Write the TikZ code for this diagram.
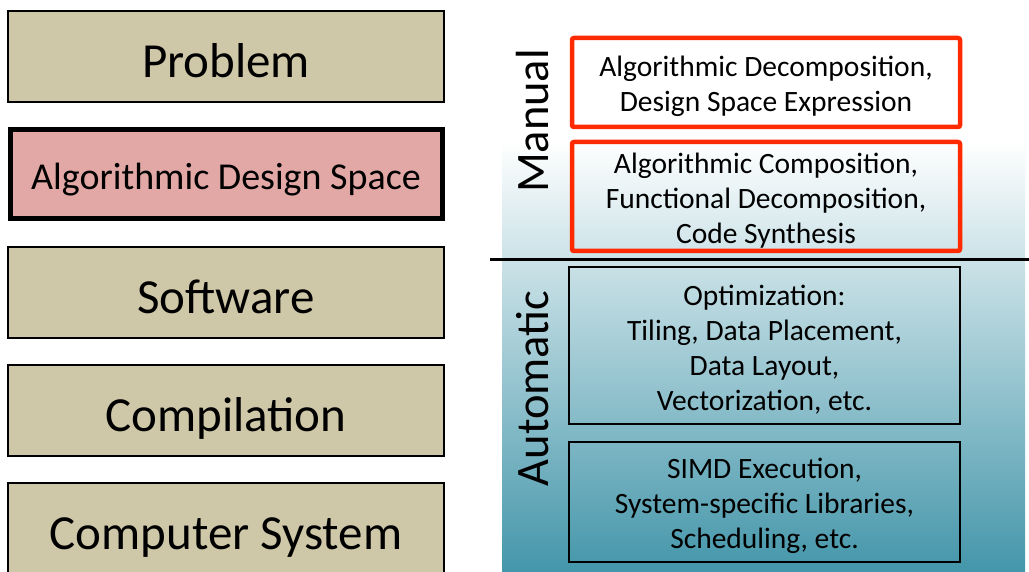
\documentclass[tikz,border=0pt]{standalone}
\usepackage{fontspec}
\setmainfont{Carlito}
\definecolor{tan}{HTML}{CFC8A8}
\definecolor{pinkbox}{HTML}{E2A8A6}
\definecolor{redline}{HTML}{FF2A00}
\definecolor{teal}{HTML}{4496AA}
\begin{document}
\begin{tikzpicture}[x=1pt,y=-1pt,
  level/.style={draw=black,line width=2pt,fill=tan,minimum width=436pt,minimum height=91pt,font=\fontsize{49}{55}\selectfont,inner sep=0pt,text height=42pt,text depth=0pt},
  manualbox/.style={draw=redline,line width=4.5pt,rounded corners=2pt,minimum width=388pt,inner sep=0pt},
  autobox/.style={draw=black,line width=2pt,minimum width=391pt,inner sep=0pt},
  boxtext/.style={align=center,font=\fontsize{29.5}{35}\selectfont,inner sep=0pt},
  sidelabel/.style={rotate=90,font=\fontsize{46.5}{52}\selectfont,inner sep=0pt}]
\useasboundingbox (0,0) rectangle (1029,572);
\fill[white] (0,0) rectangle (1029,572);
\shade[top color=white,bottom color=teal] (502,140) rectangle (1025,572);
% left stack
\node[level] (prob) at (226,56.5) {Problem};
\node[level,fill=pinkbox,line width=5pt,minimum width=432pt,minimum height=89pt,font=\fontsize{38}{44}\selectfont,text height=31pt] (ads) at (226,174.5) {Algorithmic Design Space};
\node[level] (soft) at (226,292.5) {Software};
\node[level] (comp) at (226,410.5) {Compilation};
\node[level] (sys) at (226,528.5) {Computer System};
% right side
\node[manualbox,minimum height=89pt] (r1) at (766,82.5) {};
\node[boxtext] (r1t) at ([yshift=-4pt]r1.center) {Algorithmic Decomposition,\\Design Space Expression};
\node[manualbox,minimum height=109pt] (r2) at (766,196.5) {};
\node[boxtext] (r2t) at ([yshift=-4pt]r2.center) {Algorithmic Composition,\\Functional Decomposition,\\Code Synthesis};
\node[autobox,minimum height=157pt] (a1) at (764.5,345.5) {};
\node[boxtext] (a1t) at ([yshift=-4pt]a1.center) {Optimization:\\Tiling, Data Placement,\\Data Layout,\\Vectorization, etc.};
\node[autobox,minimum height=120pt] (a2) at (764.5,502) {};
\node[boxtext] (a2t) at ([yshift=-4pt]a2.center) {SIMD Execution,\\System-specific Libraries,\\Scheduling, etc.};
\coordinate (lineL) at (490,260);
\coordinate (lineR) at (1029,260);
\draw[line width=3pt] (lineL) -- (lineR);
\node[sidelabel] (man) at (533,121) {Manual};
\node[sidelabel] (aut) at (533,388.5) {Automatic};
\end{tikzpicture}
\end{document}
